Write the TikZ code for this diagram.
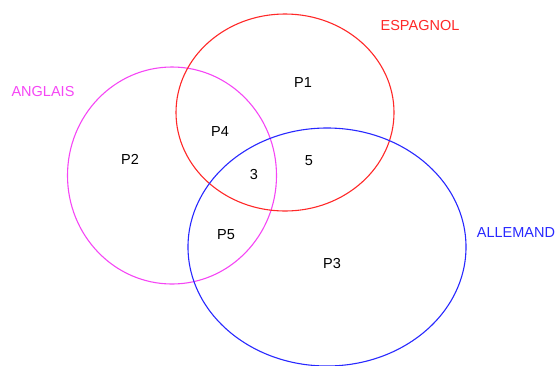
\documentclass[tikz,border=0pt]{standalone}
\usepackage{fontspec}
\setmainfont{Liberation Sans}
\definecolor{cred}{RGB}{255,40,40}
\definecolor{cmag}{RGB}{245,70,245}
\definecolor{cblue}{RGB}{40,40,255}
\begin{document}
\begin{tikzpicture}[x=1pt,y=-1pt,
  setline/.style={line width=1.1pt},
  lbl/.style={font=\fontsize{14.5}{15}\selectfont, inner sep=0pt}]
\useasboundingbox (0,0) rectangle (556,365);
% the three sets
\draw[setline, cmag] (172,175.5) ellipse [x radius=104.5, y radius=108.5];
\draw[setline, cred] (285,112.5) ellipse [x radius=109, y radius=98.5];
\draw[setline, cblue] (327,247) ellipse [x radius=139, y radius=119];
% set names
\node[lbl, text=cred] (esp) at (420,26) {ESPAGNOL};
\node[lbl, text=cmag] (ang) at (43,92) {ANGLAIS};
\node[lbl, text=cblue] (all) at (516,233) {ALLEMAND};
% region contents
\node[lbl] (p1) at (303,83) {P1};
\node[lbl] (p4) at (220,132) {P4};
\node[lbl] (p2) at (130,159) {P2};
\node[lbl] (n3) at (254,175) {3};
\node[lbl] (n5) at (309,161) {5};
\node[lbl] (p5) at (226,235) {P5};
\node[lbl] (p3) at (332,263) {P3};
\end{tikzpicture}
\end{document}
